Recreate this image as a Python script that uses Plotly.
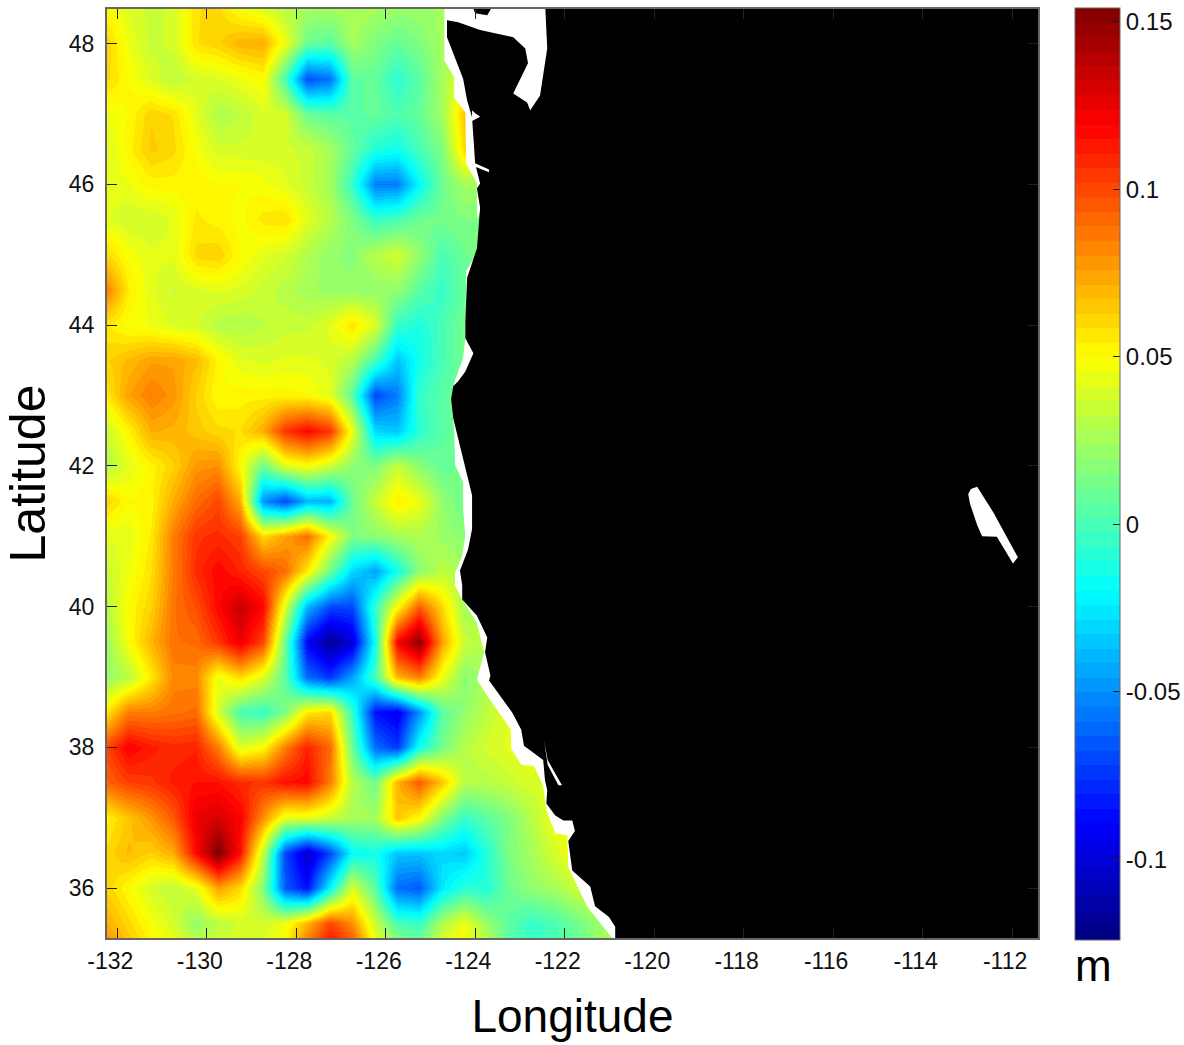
import numpy as np
import plotly.graph_objects as go

lons = [-132.25 + 0.5 * i for i in range(24)]
lats = [48.5 - 0.5 * i for i in range(28)]

# sea-surface height anomaly, in millimetres (north to south)
r485 = [50,40,35,38,58,60,48,40,30,25,25,28,25,22,22,25,25,25,25,25,25,25,25,25]
r480 = [62,45,35,38,58,62,70,72,45,10,5,25,15,8,15,25,30,30,30,30,30,30,30,30]
r475 = [60,50,40,32,38,40,45,50,0,-68,-58,5,8,-8,5,25,45,40,40,40,40,40,40,40]
r470 = [45,50,62,58,42,28,32,40,38,10,5,5,8,2,8,25,65,50,40,40,40,40,40,40]
r465 = [40,52,64,60,48,38,38,38,38,35,25,8,-10,-15,0,15,60,45,40,40,40,40,40,40]
r460 = [42,45,52,52,52,50,50,47,42,35,25,-5,-55,-55,-20,10,25,25,25,25,25,25,25,25]
r455 = [42,37,37,42,55,52,48,56,58,42,30,15,-5,0,10,12,15,15,15,15,15,15,15,15]
r450 = [60,48,42,42,60,62,50,42,38,28,20,18,30,38,20,0,10,15,15,15,15,15,15,15]
r445 = [85,55,42,36,40,42,40,35,30,25,22,20,20,20,5,-5,8,15,15,15,15,15,15,15]
r440 = [55,48,45,40,38,30,28,32,35,35,42,58,40,-5,-12,0,12,15,15,15,15,15,15,15]
r435 = [62,68,75,75,68,52,42,40,42,42,40,30,0,-35,-15,0,12,15,15,15,15,15,15,15]
r430 = [55,75,85,78,62,50,52,52,52,50,42,5,-70,-55,-5,5,12,15,15,15,15,15,15,15]
r425 = [35,52,72,70,65,60,58,72,105,118,105,45,-30,-35,-8,5,12,15,15,15,15,15,15,15]
r420 = [28,42,52,62,78,80,50,10,40,48,35,18,15,35,18,8,12,15,15,15,15,15,15,15]
r415 = [62,50,52,72,90,100,72,-50,-70,-40,-40,10,35,55,45,20,10,15,15,15,15,15,15,15]
r410 = [42,42,55,85,105,108,102,60,75,90,50,15,18,25,28,22,18,18,18,18,18,18,18,18]
r405 = [35,45,58,85,108,118,110,100,90,55,10,-30,-45,-15,18,32,25,25,25,25,25,25,25,25]
r400 = [30,50,62,88,98,118,135,118,40,-40,-70,-70,-5,50,95,60,25,25,25,25,25,25,25,25]
r395 = [22,48,70,88,90,105,125,100,10,-90,-118,-100,-15,120,150,75,35,28,28,28,28,28,28,28]
r390 = [20,30,55,82,82,45,60,40,5,-60,-75,-45,0,70,85,45,18,25,25,25,25,25,25,25]
r385 = [55,85,85,88,90,38,0,-5,15,55,60,-5,-85,-95,-50,5,20,32,42,42,42,42,42,42]
r380 = [100,120,112,108,110,85,40,50,85,110,90,10,-60,-75,-15,12,30,38,42,45,45,45,45,45]
r375 = [92,102,105,112,115,115,108,105,115,118,85,30,10,70,95,65,30,30,35,40,35,35,35,35]
r370 = [52,65,78,95,125,130,120,80,42,42,35,25,25,65,50,15,-5,5,15,30,45,45,45,45]
r365 = [60,68,62,72,118,155,115,32,-70,-105,-70,-20,-15,-35,-35,-30,-35,-10,15,25,38,48,48,48]
r360 = [62,50,38,32,42,75,60,15,-65,-85,-20,40,5,-60,-65,-25,-8,-10,10,20,25,35,42,42]
r355 = [72,60,48,38,20,32,38,38,45,70,100,80,35,0,-5,28,45,22,5,-5,0,10,22,30]
r350 = [88,70,56,52,40,38,42,42,55,100,130,110,55,35,25,52,55,38,5,-5,0,10,22,30]
ssh_mm = [r485,r480,r475,r470,r465,r460,r455,r450,r445,r440,r435,r430,r425,r420,
          r415,r410,r405,r400,r395,r390,r385,r380,r375,r370,r365,r360,r355,r350]

# limit of the gridded field along the shore
edge_lon = [-124.69,-124.69,-124.47,-124.47,-124.22,-124.20,-123.96,-123.96,-123.84,-123.89,
            -124.20,-124.22,-124.22,-124.27,-124.45,-124.54,-124.47,-124.45,-124.27,-124.27,
            -124.22,-124.29,-124.45,-124.45,-124.29,-123.96,-123.80,-123.96,-123.62,-123.20,
            -123.20,-122.97,-122.68,-122.48,-122.41,-122.21,-121.94,-121.92,-121.50,-120.89,
            -120.89,-111.0,-111.0]
edge_lat = [48.6,47.76,47.52,47.23,47.02,46.29,46.01,45.51,45.67,45.09,
            44.77,44.05,43.81,43.53,43.22,42.95,42.53,42.01,41.77,41.38,
            41.01,40.72,40.48,40.30,40.10,39.77,39.35,38.96,38.63,38.25,
            37.99,37.75,37.73,37.45,37.11,36.78,36.75,36.30,35.74,35.25,
            35.0,35.0,48.6]

# land outline
land_lon = [-124.63,-124.38,-123.89,-123.15,-122.88,-122.82,-123.15,-122.84,-122.77,-122.55,
            -122.39,-122.44,-111.0,-111.0,-120.87,-120.87,-121.01,-121.32,-121.43,-121.83,
            -121.92,-121.77,-121.83,-122.03,-122.21,-122.41,-122.39,-122.44,-122.48,-122.91,
            -122.97,-123.17,-123.69,-123.66,-123.78,-123.73,-123.96,-124.29,-124.29,-124.34,
            -124.16,-124.07,-124.07,-124.16,-124.49,-124.54,-124.49,-124.38,-124.22,-124.04,
            -124.22,-124.22,-124.18,-123.96,-123.89,-123.96,-123.89,-124.00,-124.07,-124.18,
            -124.27,-124.63,-124.63]
land_lat = [48.33,48.30,48.19,48.09,47.93,47.72,47.29,47.16,47.05,47.26,
            47.93,48.6,48.6,35.0,35.0,35.45,35.59,35.74,36.02,36.25,
            36.67,36.81,36.96,36.96,37.03,37.20,37.39,37.53,37.82,38.02,
            38.25,38.49,38.95,39.02,39.35,39.56,39.87,40.10,40.30,40.51,
            40.81,41.10,41.58,41.81,42.67,42.95,43.13,43.20,43.34,43.60,
            43.81,44.05,44.67,45.09,45.67,45.94,46.01,46.29,46.95,47.19,
            47.50,48.09,48.33]

# second land piece at the top edge, and white inlets and lake
blob_lon = [-124.11,-123.55,-123.73,-124.00]
blob_lat = [48.6,48.6,48.40,48.43]
bay_lon = [-122.46,-122.38,-122.24,-122.06,-122.14,-122.38,-122.46]
bay_lat = [38.10,37.82,37.66,37.46,37.46,37.75,38.10]
inlet1_lon = [-124.07,-124.02,-123.89,-124.00,-124.07]
inlet1_lat = [47.05,47.02,46.96,46.93,46.90]
inlet2_lon = [-124.04,-123.69,-123.69,-124.00]
inlet2_lat = [46.31,46.21,46.17,46.25]
lake_lon = [-112.98,-112.92,-112.78,-112.60,-112.42,-111.87,-111.98,-112.34,-112.67,-112.78,-112.94]
lake_lat = [41.60,41.67,41.70,41.51,41.34,40.70,40.61,40.99,41.00,41.16,41.46]

lon_ticks = list(range(-132, -110, 2))
lat_ticks = list(range(36, 50, 2))
cbar_ticks = [-0.1, -0.05, 0, 0.05, 0.1, 0.15]
cbar_labels = ["-0.1", "-0.05", "0", "0.05", "0.1", "0.15"]
zmin, zmax = -0.124, 0.154


def jet(n):
    scale = []
    for i in range(n):
        t = (i + 0.5) / n
        r, g, b = (np.clip(1.5 - abs(4 * t - c), 0, 1) for c in (3, 2, 1))
        col = f"rgb({int(r*255)},{int(g*255)},{int(b*255)})"
        scale += [[i / n, col], [(i + 1) / n, col]]
    return scale


FONT = "Liberation Sans, Arial, sans-serif"
z = (np.array(ssh_mm, dtype=float) / 1000)[::-1]
PLOT_W, PLOT_H = 931, 929
CB_X, CB_TOP, CB_LEN, CB_W = 1.0397, 1.001, 932, 45

fig = go.Figure()
fig.add_trace(go.Heatmap(
    x=lons, y=lats[::-1], z=z, zsmooth="best", zmin=zmin, zmax=zmax, colorscale=jet(64),
    colorbar=dict(
        lenmode="pixels", len=CB_LEN, thicknessmode="pixels", thickness=CB_W,
        x=CB_X, xanchor="left", xpad=0, y=CB_TOP, yanchor="top", ypad=0,
        outlinecolor="#666666", outlinewidth=1, borderwidth=0,
        ticks="inside", ticklen=7, tickcolor="#222222", tickwidth=1,
        tickvals=cbar_ticks, ticktext=cbar_labels,
        tickfont=dict(family=FONT, size=24, color="#111111"),
    ),
))


def poly(x, y, color):
    fig.add_trace(go.Scatter(x=x, y=y, mode="lines", fill="toself", fillcolor=color,
                             line=dict(width=0, color=color), hoverinfo="skip", showlegend=False))


poly(edge_lon, edge_lat, "white")
poly(land_lon, land_lat, "black")
poly(blob_lon, blob_lat, "black")
poly(bay_lon, bay_lat, "white")
poly(inlet1_lon, inlet1_lat, "white")
poly(inlet2_lon, inlet2_lat, "white")
poly(lake_lon, lake_lat, "white")

# the colour bar carries its ticks on the left side too
cb_shapes = []
for v in cbar_ticks:
    yy = CB_TOP - (CB_LEN / PLOT_H) * (zmax - v) / (zmax - zmin)
    cb_shapes.append(dict(type="line", xref="paper", yref="paper", x0=CB_X, x1=CB_X + 7 / PLOT_W,
                          y0=yy, y1=yy, line=dict(color="#222222", width=1)))

axis_common = dict(
    ticks="inside", ticklen=10, tickwidth=1, tickcolor="#222222", mirror="ticks",
    showline=True, linecolor="#666666", linewidth=2, showgrid=False, zeroline=False,
    tickfont=dict(family=FONT, size=23, color="#111111"),
)
fig.update_layout(
    width=1184, height=1045, autosize=False,
    margin=dict(l=107, r=146, t=9, b=107, autoexpand=False, pad=0),
    paper_bgcolor="white", plot_bgcolor="white", showlegend=False, shapes=cb_shapes,
    xaxis=dict(range=[-132.23, -111.42], tickvals=lon_ticks, ticktext=[str(v) for v in lon_ticks],
               ticklabelstandoff=1, ticklabelshift=-7,
               title=dict(text="Longitude", font=dict(family=FONT, size=46, color="black"), standoff=27),
               **axis_common),
    yaxis=dict(range=[35.29, 48.49], tickvals=lat_ticks, ticktext=[str(v) for v in lat_ticks],
               ticklabelstandoff=6,
               title=dict(text="Latitude", font=dict(family=FONT, size=50, color="black"), standoff=12),
               **axis_common),
    annotations=[dict(text="m", xref="paper", yref="paper", x=(1093 - 107) / PLOT_W, y=-0.03,
                      xanchor="center", yanchor="middle", showarrow=False,
                      font=dict(family=FONT, size=44, color="black"))],
)
fig.write_html("out.html", config={"displayModeBar": False},
               post_script="document.body.style.margin='0';")
